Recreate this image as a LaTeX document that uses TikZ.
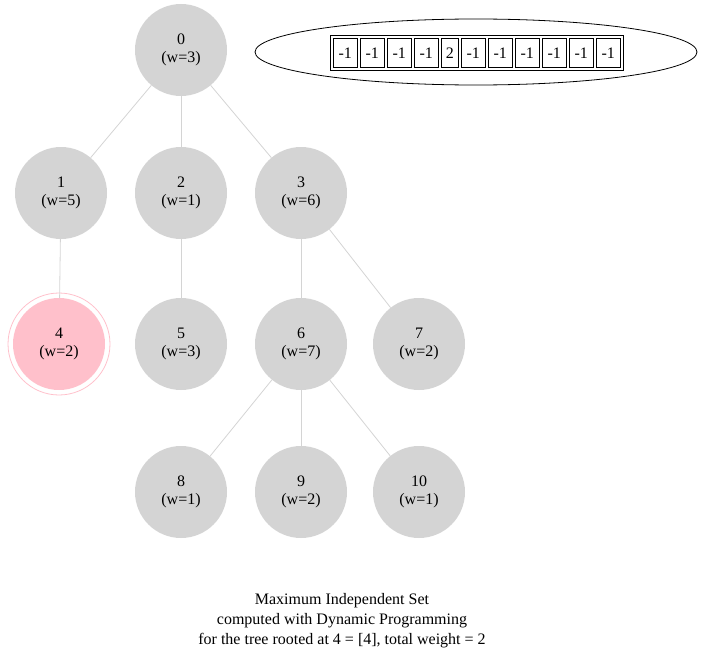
\documentclass[tikz,border=0pt]{standalone}
\usepackage{fontspec}
\usetikzlibrary{shapes.geometric}
\setmainfont{Liberation Serif}
\definecolor{pinkc}{RGB}{255,192,203}
\begin{document}
\begin{tikzpicture}[x=1pt,y=-1pt,
 nd/.style={circle,fill=black!17,minimum size=92pt,inner sep=0pt,align=center,font=\fontsize{16}{18}\selectfont},
 ed/.style={draw=black!17,line width=0.8pt},
 cell/.style={draw,line width=0.6pt,minimum height=29pt,inner sep=0pt,font=\fontsize{16}{18}\selectfont}]
\useasboundingbox (0,0) rectangle (702,669);
\node[nd] (n0) at (181,50) {0\\(w=3)};
\node[nd] (n1) at (61,193) {1\\(w=5)};
\node[nd] (n2) at (181,193) {2\\(w=1)};
\node[nd] (n3) at (301,193) {3\\(w=6)};
\node[nd,fill=pinkc] (n4) at (59,344) {4\\(w=2)};
\draw[pinkc,line width=0.8pt] (n4.center) circle (51);
\node[nd] (n5) at (181,344) {5\\(w=3)};
\node[nd] (n6) at (301,344) {6\\(w=7)};
\node[nd] (n7) at (419,344) {7\\(w=2)};
\node[nd] (n8) at (181,492) {8\\(w=1)};
\node[nd] (n9) at (301,492) {9\\(w=2)};
\node[nd] (n10) at (419,492) {10\\(w=1)};
\draw[ed] (n0)--(n1); \draw[ed] (n0)--(n2); \draw[ed] (n0)--(n3);
\draw[ed] (n1)--(n4); \draw[ed] (n2)--(n5); \draw[ed] (n3)--(n6); \draw[ed] (n3)--(n7);
\draw[ed] (n6)--(n8); \draw[ed] (n6)--(n9); \draw[ed] (n6)--(n10);
\node[draw,ellipse,minimum width=442pt,minimum height=66pt,line width=0.8pt] (arr) at (476,52) {};
\draw[line width=0.6pt] (330,35) rectangle (623,70);
\foreach \x/\w/\t [count=\i] in {333/24/-1,360/24/-1,387/24/-1,414/24/-1,441/17/2,461/24/-1,488/24/-1,515/24/-1,542/24/-1,569/24/-1,596/24/-1}
  \node[cell,minimum width=\w pt,anchor=north west] (c\i) at (\x,38) {\t};
\node[align=center,font=\fontsize{16}{20}\selectfont] (cap) at (342,621) {Maximum Independent Set\\computed with Dynamic Programming\\for the tree rooted at 4 = [4], total weight = 2};
\end{tikzpicture}
\end{document}
